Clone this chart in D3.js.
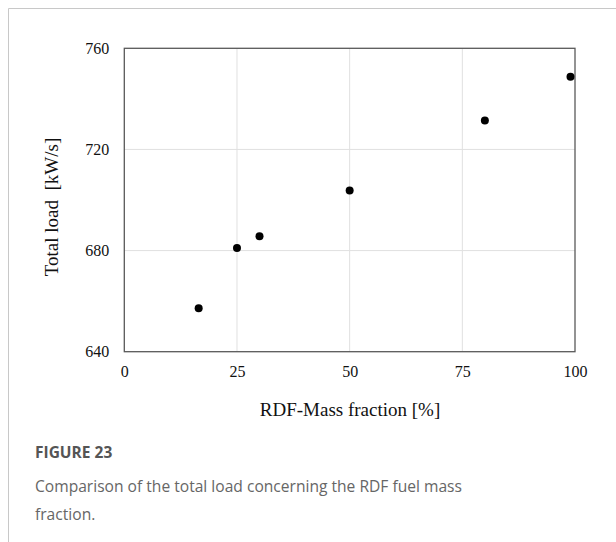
<!DOCTYPE html>
<html>
<head>
<meta charset="utf-8">
<script src="https://cdn.jsdelivr.net/npm/d3@7"></script>
<style>
  body { margin: 0; background: #fff; }
  svg { display: block; }
</style>
</head>
<body>
<svg id="chart" width="616" height="542"></svg>
<script>
// data
const massFraction = [16.5, 25, 30, 50, 80, 99];
const totalLoad = [657.2, 681, 685.7, 703.8, 731.4, 748.7];
const xTicks = [0, 25, 50, 75, 100];
const yTicks = [640, 680, 720, 760];

const svg = d3.select("#chart");
const W = 616, H = 542;
const margin = { left: 124.3, right: W - 575, top: 48.3, bottom: H - 351.7 };
const serif = "'Liberation Serif', 'Times New Roman', serif";

// page frame
svg.append("path")
    .attr("d", `M8.5,${H}V8.5H${W}`)
    .attr("fill", "none")
    .attr("stroke", "#c8c8c8");

let x = d3.scaleLinear().domain([0, 100]).range([margin.left, W - margin.right]);
let y = d3.scaleLinear().domain([640, 760]).range([H - margin.bottom, margin.top]);

// gridlines
svg.append("g").selectAll("line")
    .data(xTicks.slice(1, -1)).join("line")
    .attr("x1", d => x(d)).attr("x2", d => x(d))
    .attr("y1", y(640)).attr("y2", y(760))
    .attr("stroke", "#e0e0e0");
svg.append("g").selectAll("line")
    .data(yTicks.slice(1, -1)).join("line")
    .attr("x1", x(0)).attr("x2", x(100))
    .attr("y1", d => y(d)).attr("y2", d => y(d))
    .attr("stroke", "#e0e0e0");

// axes (no tick marks, labels only)
const xAxis = svg.append("g")
    .attr("transform", `translate(0,${y(640)})`)
    .call(d3.axisBottom(x).tickValues(xTicks).tickSize(0).tickPadding(14));
const yAxis = svg.append("g")
    .attr("transform", `translate(${x(0)},0)`)
    .call(d3.axisLeft(y).tickValues(yTicks).tickSize(0).tickPadding(15));
[xAxis, yAxis].forEach(g => {
    g.select(".domain").remove();
    g.selectAll("text")
        .attr("font-family", serif)
        .attr("font-size", 16)
        .attr("fill", "#111");
});

// plot border
svg.append("rect")
    .attr("x", x(0)).attr("y", y(760))
    .attr("width", x(100) - x(0)).attr("height", y(640) - y(760))
    .attr("fill", "none")
    .attr("stroke", "#595959")
    .attr("stroke-width", 1.3);

// points
svg.append("g").selectAll("circle")
    .data(massFraction.map((d, i) => [d, totalLoad[i]])).join("circle")
    .attr("cx", d => x(d[0]))
    .attr("cy", d => y(d[1]))
    .attr("r", 4)
    .attr("fill", "#000");

// axis titles
svg.append("text")
    .attr("x", 350).attr("y", 416)
    .attr("text-anchor", "middle")
    .attr("font-family", serif).attr("font-size", 19).attr("fill", "#111")
    .text("RDF-Mass fraction [%]");
svg.append("text")
    .attr("transform", "translate(58,207) rotate(-90)")
    .attr("text-anchor", "middle")
    .attr("font-family", serif).attr("font-size", 19).attr("fill", "#111")
    .attr("xml:space", "preserve")
    .style("white-space", "pre")
    .text("Total load  [kW/s]");

// caption
svg.append("text")
    .attr("x", 35).attr("y", 458)
    .attr("font-family", "'Open Sans', sans-serif").attr("font-size", 15.5)
    .attr("font-weight", "bold").attr("fill", "#555")
    .text("FIGURE 23");
const caption = ["Comparison of the total load concerning the RDF fuel mass", "fraction."];
svg.append("g").selectAll("text")
    .data(caption).join("text")
    .attr("x", 35)
    .attr("y", (d, i) => 492 + i * 28)
    .attr("font-family", "'Open Sans', sans-serif").attr("font-size", 15.6)
    .attr("fill", "#666")
    .text(d => d);
</script>
</body>
</html>
